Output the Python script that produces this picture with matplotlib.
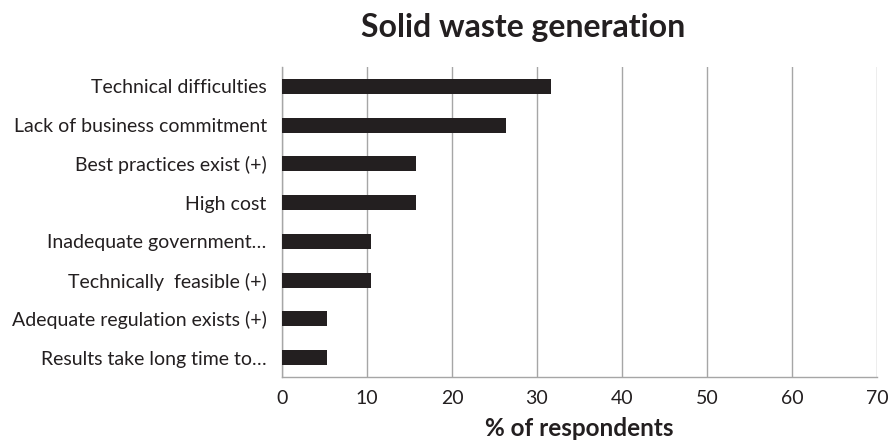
import matplotlib
matplotlib.use("Agg")
import matplotlib.pyplot as plt

categories = ["Technical difficulties", "Lack of business commitment", "Best practices exist (+)",
              "High cost", "Inadequate government…", "Technically  feasible (+)",
              "Adequate regulation exists (+)", "Results take long time to…"]
values = [31.6, 26.3, 15.8, 15.8, 10.5, 10.5, 5.3, 5.3]
xticks = [0, 10, 20, 30, 40, 50, 60, 70]

plt.rcParams['font.family'] = ['Lato', 'DejaVu Sans']
fig = plt.figure(figsize=(8.94, 4.43), dpi=100)
ax = fig.add_axes([282/894, 1-377/443, (877-282)/894, (377-67)/443])

n = len(categories)
ypos = list(range(n))[::-1]
ax.barh(ypos, values, height=0.39, color="#231f20", zorder=3)
ax.set_ylim(-0.5, n-0.5)
ax.set_xlim(0, 70)
ax.set_xticks(xticks)
ax.set_xticklabels([str(t) for t in xticks], fontsize=14, color="#231f20")
ax.set_yticks(ypos)
ax.set_yticklabels(categories, fontsize=14, color="#231f20")
ax.tick_params(axis='both', length=0)
ax.tick_params(axis='y', pad=11)
ax.tick_params(axis='x', pad=9)
ax.grid(axis='x', color="#a6a6a6", linewidth=1, zorder=0)
for s in ['top', 'right']:
    ax.spines[s].set_visible(False)
for s in ['left', 'bottom']:
    ax.spines[s].set_color("#a6a6a6")
    ax.spines[s].set_linewidth(1)
ax.set_xlabel("% of respondents", fontsize=17.5, fontweight='bold', color="#231f20")
ax.xaxis.set_label_coords(0.5, -0.13)
fig.text(523/894, 1-28/443, "Solid waste generation", ha='center', va='center',
         fontsize=23, fontweight='bold', color="#231f20")
fig.savefig("out.png", dpi=100)
